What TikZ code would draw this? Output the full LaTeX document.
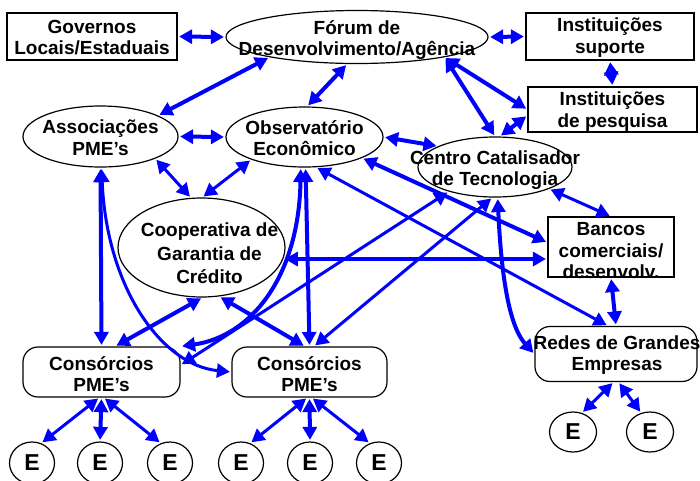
\documentclass[tikz,border=0pt]{standalone}
\usepackage{fontspec}
\setmainfont{Liberation Sans}
\usetikzlibrary{shapes.geometric,arrows.meta}

\begin{document}
\begin{tikzpicture}[x=1pt,y=-1pt]
        \tikzset{
            ret/.style 2 args={
                draw,
                line width=1.2pt,
                minimum width=#1,
                minimum height=#2,
                inner sep=0pt
            },
            elip/.style 2 args={ret={#1}{#2}, ellipse},
            arred/.style 2 args={ret={#1}{#2}, rounded corners=15pt},
            txt/.style={font=\bfseries\fontsize{19}{21.5}\selectfont, align=center, inner sep=0pt},
            emp/.style={draw, ellipse, line width=1.2pt, minimum width=45, minimum height=42,
                inner sep=0pt, font=\bfseries\fontsize{23}{23}\selectfont},
            seta/.style={blue, line width=4pt,
                {Triangle[length=13pt,width=14pt]}-{Triangle[length=13pt,width=14pt]},
                shorten <=1.5pt, shorten >=1.5pt},
            setafina/.style={seta, line width=3pt}
        }
        \useasboundingbox (0,0) rectangle (700,480);

        \node[ret={170}{47}, label={[txt,yshift=-1pt]center:Governos\\Locais/Estaduais}] (gov) at (92,36.5) {};
        \node[elip={262}{53}, label={[txt,yshift=-3pt]center:Fórum de\\Desenvolvimento/Agência}] (forum) at (357,37) {};
        \node[ret={168}{47}, label={[txt,yshift=-1pt]center:Instituições\\suporte}] (suporte) at (610,36.5) {};
        \node[ret={169}{45}, label={[txt,yshift=-2pt]center:Instituições\\de pesquisa}] (pesquisa) at (612.5,109.5) {};
        \node[elip={155}{61}, label={[txt,yshift=-1pt]center:Associações\\PME’s}] (assoc) at (100.5,136.5) {};
        \node[elip={157}{60}, label={[txt,yshift=-1pt]center:Observatório\\Econômico}] (obs) at (304.5,137) {};
        \node[elip={154}{60}, label={[txt,yshift=-3pt]center:Centro Catalisador\\de Tecnologia}] (centro) at (495,167) {};
        \node[elip={167}{99}, label={[txt,xshift=8pt,yshift=-6pt,font=\bfseries\fontsize{19}{23.5}\selectfont]center:Cooperativa de\\Garantia de\\Crédito}] (coop) at (201.5,247.5) {};
        \node[ret={126}{60}, label={[txt,yshift=-4pt]center:Bancos\\comerciais/\\desenvolv.}] (bancos) at (611,247) {};
        \node[arred={162}{55}, label={[txt,xshift=1pt,yshift=-1pt]center:Redes de Grandes\\Empresas}] (redes) at (616,354) {};
        \node[arred={157}{50}, label={[txt,yshift=-2pt]center:Consórcios\\PME’s}] (consA) at (101.5,372) {};
        \node[arred={155}{50}, label={[txt,yshift=-2pt]center:Consórcios\\PME’s}] (consB) at (309.5,372) {};

        \foreach \x/\n in {32/1,100/2,170/3,241/4,310/5,379/6} { %EMPRESAS
            \node[emp] (e\n) at (\x,463) {E};
        }
        \node[emp, minimum width=47, minimum height=40] (e7) at (573,432) {E};
        \node[emp, minimum width=47, minimum height=40] (e8) at (650,432) {E};

        %SETAS DO FORUM
        \draw[seta] (gov.east) -- (forum.west);
        \draw[seta] (forum.east) -- (suporte.west);
        \draw[seta] (suporte.south) -- (pesquisa.north);
        \draw[seta] (forum.193) -- (assoc.20);
        \draw[seta] (forum.250) -- (obs.85);
        \draw[seta] (forum.-13) -- (pesquisa.west);
        \draw[seta] (forum.-13) -- (centro.north);
        \draw[seta] (centro.81) -- (pesquisa.184);

        %SETAS DO MEIO
        \draw[seta] (assoc.east) -- (obs.west);
        \draw[setafina] (assoc.-22) -- (coop.102);
        \draw[setafina] (obs.203) -- (coop.89);
        \draw[seta] (obs.east) -- (centro.160);
        \draw[setafina] (centro.-22) -- (bancos.north);
        \draw[seta] (obs.-20) -- (bancos.176);
        \draw[seta] (coop.-8) -- (coop.-8 -| bancos.west);
        \draw[setafina] (obs.-69) -- (redes.106);
        \draw[seta] (bancos.south) -- (redes.north);

        %SETAS PARA OS CONSORCIOS
        \draw[seta] (obs.-88) -- (consB.north);
        \draw[seta] (obs.-97) .. controls +(-2,110) and +(70,-10) .. (consA.north east);
        \draw[seta] (assoc.south) -- (consA.north);
        \draw[setafina] (assoc.-88) .. controls +(5,120) and +(-70,-7) .. (consB.west);
        \draw[seta] (coop.-89) -- (consA.62);
        \draw[seta] (coop.-70) -- (consB.100);
        \draw[setafina] (centro.208) -- (consA.5);
        \draw[setafina] (centro.-95) -- (consB.80);
        \draw[seta] (centro.-85) .. controls +(5,110) and +(-18,-20) .. (redes.west);

        %SETAS PARA AS EMPRESAS
        \foreach \c/\i/\j/\k in {consA/1/2/3, consB/4/5/6} {
            \draw[setafina] (\c.-95) -- (e\i.65);
            \draw[seta] (\c.south) -- (e\j.north);
            \draw[setafina] (\c.-85) -- (e\k.115);
        }
        \draw[setafina] (redes.-95) -- (e7.65);
        \draw[setafina] (redes.-85) -- (e8.115);

\end{tikzpicture}
\end{document}
